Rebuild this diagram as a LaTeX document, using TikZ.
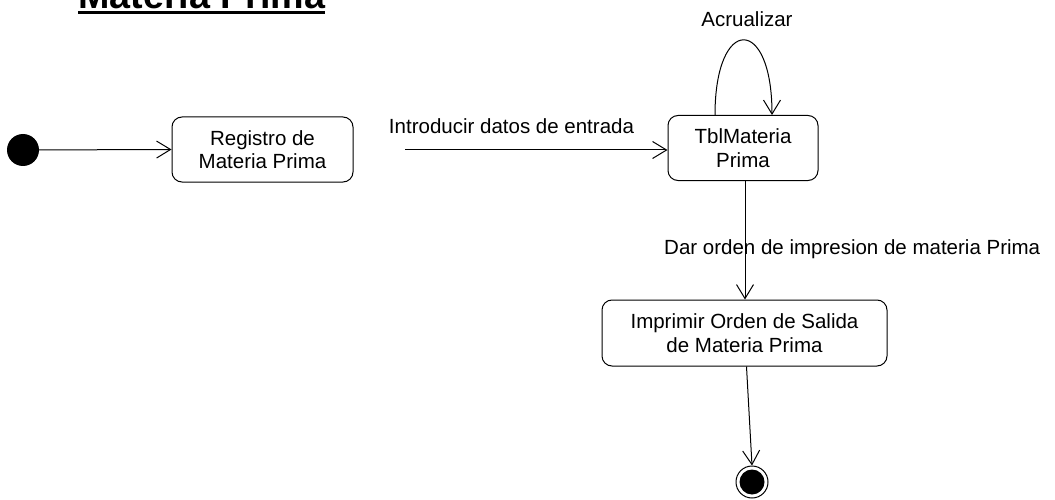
\documentclass[tikz,border=0pt]{standalone}
\usepackage{fontspec}
\setmainfont{Liberation Sans}
\usetikzlibrary{arrows.meta}
\begin{document}
\begin{tikzpicture}[x=1pt,y=-1pt,
  every node/.style={font=\fontsize{20.5}{23.5}\selectfont},
  statebox/.style={draw, line width=1pt, rounded corners=10pt, inner sep=0pt, align=center},
  lbl/.style={inner sep=0pt},
  arr/.style={line width=1pt, -{Straight Barb[length=14pt,width=17pt,line width=1pt]}}]
\clip (0,0) rectangle (1055,500);
\useasboundingbox (0,0) rectangle (1055,500);
% title (cut off at top)
\node[lbl, anchor=base west, font=\fontsize{37.7}{40}\selectfont\bfseries] (title) at (78,9) {Materia Prima};
\draw[line width=3pt] (title.base west |- 0,13) -- (325,13);
% nodes
\node[circle, fill=black, minimum size=32pt, inner sep=0pt] (init) at (23,150) {};
\node[statebox, minimum width=181pt, minimum height=65pt] (reg) at (262.5,149.5) {Registro de\\Materia Prima};
\node[statebox, minimum width=150pt, minimum height=65pt] (tbl) at (743,148) {TblMateria\\Prima};
\node[statebox, minimum width=285pt, minimum height=66pt] (imp) at (744.5,333) {Imprimir Orden de Salida\\de Materia Prima};
\node[circle, draw, line width=1pt, minimum size=32pt, inner sep=0pt,
  path picture={\fill (path picture bounding box.center) circle (12.5pt);}] (fin) at (752,482) {};
% labels
\node[lbl, anchor=base] (lintro) at (511.5,134) {Introducir datos de entrada};
\node[lbl, anchor=base] (lact) at (747,27) {Acrualizar};
\node[lbl, anchor=base west] (ldar) at (664,254) {Dar orden de impresion de materia Prima};
% connectors
\coordinate (introstart) at (405,150);
\draw[arr] (init) -- (reg.west);
\draw[arr] (introstart) -- (tbl.west |- introstart);
\draw[arr] ([xshift=-28pt]tbl.north) .. controls (715,15) and (772,15) .. ([xshift=29pt]tbl.north);
\draw[arr] ([xshift=2pt]tbl.south) -- ([xshift=0.5pt]imp.north);
\draw[arr] ([xshift=2pt]imp.south) -- (fin.north);
\end{tikzpicture}
\end{document}
